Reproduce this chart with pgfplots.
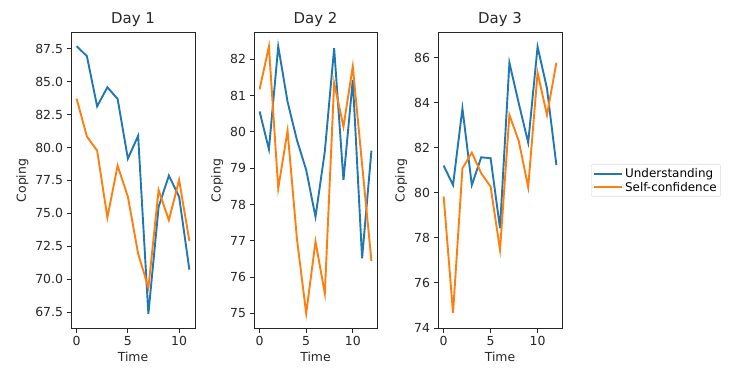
\documentclass[border=0pt]{standalone}
\usepackage{fontspec}
\setmainfont{DejaVu Sans}
\usepackage{pgfplots}
\pgfplotsset{compat=1.18}
\definecolor{tabblue}{HTML}{1F77B4}
\definecolor{taborange}{HTML}{FF7F0E}
\definecolor{txt}{HTML}{262626}
\pgfplotsset{legend image code/.code={\draw[#1, line width=1.9bp] (0bp,0bp) -- (28bp,0bp);}}
\pgfplotsset{panel/.style={
  scale only axis, width=124bp, height=295bp,
  xtick={0,5,10},
  tick align=outside, tick pos=left, major tick length=4.5bp,
  every tick/.style={line width=1bp, txt},
  axis line style={line width=1bp, txt},
  font=\fontsize{12.5}{15}\selectfont,
  every tick label/.append style={txt},
  title style={font=\fontsize{15}{18}\selectfont, yshift=-3bp, txt},
  xlabel=Time, ylabel=Coping,
  every axis label/.append style={txt},
  /pgf/number format/assume math mode=true,
  every axis plot/.append style={line width=1.9bp, no markers},
}}
\begin{document}
\begin{tikzpicture}[x=1bp,y=1bp]
\useasboundingbox (0,0) rectangle (737,369);
\begin{axis}[panel, at={(71bp,41bp)}, anchor=south west, title={Day 1},
  xmin=-0.55, xmax=11.55, ymin=66.3, ymax=88.7,
  ytick={67.5,70,72.5,75,77.5,80,82.5,85,87.5},
  yticklabel style={/pgf/number format/.cd, fixed, fixed zerofill, precision=1}]
\addplot[tabblue] coordinates {(0,87.70) (1,86.94) (2,83.13) (3,84.58) (4,83.69) (5,79.16) (6,80.89) (7,67.37) (8,75.5) (9,77.87) (10,76.27) (11,70.73)};
\addplot[taborange] coordinates {(0,83.71) (1,80.84) (2,79.77) (3,74.69) (4,78.63) (5,76.27) (6,71.95) (7,69.36) (8,76.77) (9,74.49) (10,77.54) (11,72.91)};
\end{axis}
\begin{axis}[panel, at={(254bp,41bp)}, anchor=south west, title={Day 2}, width=123bp,
  xmin=-0.6, xmax=12.6, ymin=74.6, ymax=82.72,
  ytick={75,76,77,78,79,80,81,82}]
\addplot[tabblue] coordinates {(0,80.56) (1,79.52) (2,82.35) (3,80.83) (4,79.78) (5,78.95) (6,77.66) (7,79.46) (8,82.30) (9,78.67) (10,81.43) (11,76.52) (12,79.48)};
\addplot[taborange] coordinates {(0,81.17) (1,82.35) (2,78.44) (3,80.03) (4,77.07) (5,75.00) (6,76.98) (7,75.55) (8,81.34) (9,80.14) (10,81.80) (11,79.10) (12,76.45)};
\end{axis}
\begin{axis}[panel, at={(438bp,41bp)}, anchor=south west, title={Day 3},
  xmin=-0.6, xmax=12.6, ymin=74.0, ymax=87.1,
  ytick={74,76,78,80,82,84,86},
  legend style={at={(1.234,0.5)}, anchor=west, draw=black!15, rounded corners=2bp,
    font=\fontsize{12}{14}\selectfont, inner sep=2bp, row sep=-1bp},
  legend cell align=left]
\addplot[tabblue] coordinates {(0,81.21) (1,80.35) (2,83.75) (3,80.35) (4,81.58) (5,81.54) (6,78.43) (7,85.78) (8,83.97) (9,82.23) (10,86.49) (11,84.64) (12,81.24)};
\addplot[taborange] coordinates {(0,79.84) (1,74.67) (2,81.09) (3,81.79) (4,80.87) (5,80.28) (6,77.47) (7,83.46) (8,82.30) (9,80.25) (10,85.34) (11,83.46) (12,85.78)};
\legend{Understanding, Self-confidence}
\end{axis}
\end{tikzpicture}
\end{document}
